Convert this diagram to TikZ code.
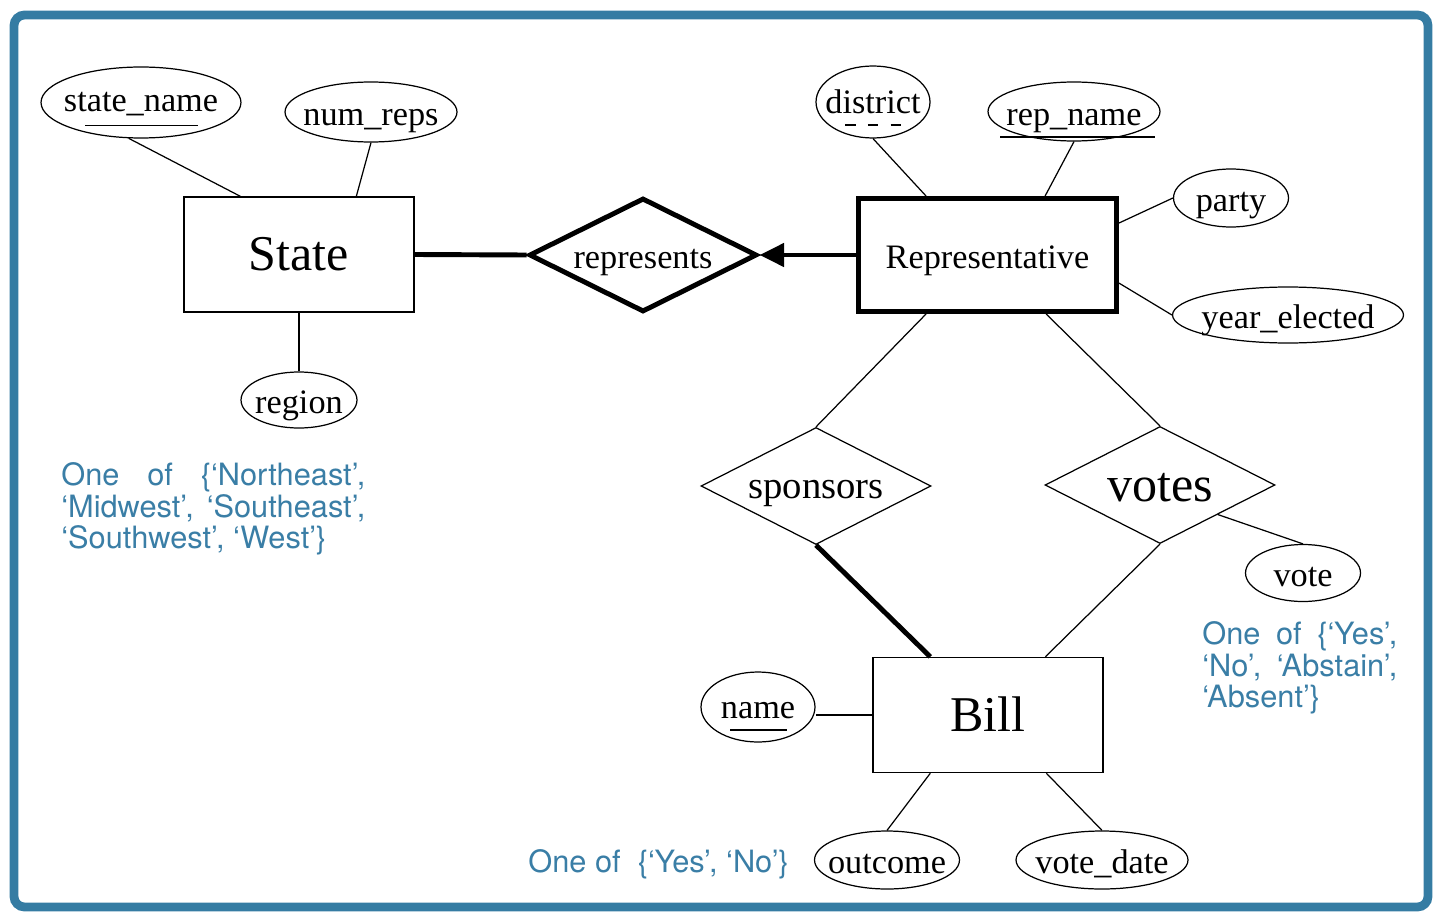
\documentclass[tikz,border=0pt]{standalone}
\usepackage{fontspec}
\setmainfont{Liberation Serif}
\newfontfamily\notefont{TeX Gyre Heros}
\usepackage{xcolor}
\usepackage{tikz}
\usetikzlibrary{arrows.meta,calc}
\usetikzlibrary{shapes.geometric}

\definecolor{notecol}{RGB}{58,126,166}
\definecolor{framecol}{RGB}{53,124,163}

\begin{document}
\begin{tikzpicture}[x = 0.02cm, y = -0.02cm,
 small/.style = {font = \fontsize{19.5}{22}\selectfont, text height = 18.2pt, text depth = 2.6pt},
 big/.style = {font = \fontsize{28.5}{32}\selectfont, text height = 21pt, text depth = 2.7pt},
 attr/.style = {draw, ellipse, inner sep = 0pt, line width = 0.7pt, small,
                execute at begin node = \hbox to 0pt\bgroup\hss,
                execute at end node = \hss\egroup},
 keyattr/.style = {attr, text height = 15.5pt},
 ent/.style = {draw, rectangle, inner sep = 0pt, line width = 0.8pt,
               minimum width = 4.6cm, minimum height = 2.3cm},
 rel/.style = {draw, diamond, aspect = 2, inner sep = 0pt, line width = 0.7pt,
               minimum width = 4.6cm, minimum height = 2.34cm},
 link/.style = {line width = 0.7pt},
 heavy/.style = {line width = 2.8pt},
 note/.style = {text = notecol, inner sep = 0pt, align = justify,
                font = \notefont\fontsize{17.5}{18.1}\selectfont}]

\useasboundingbox (0,0) rectangle (1442,912);
\draw[framecol, line width = 5pt, rounded corners = 6pt] (14,15) rectangle (1428,907);

\node[ent, big] (St) at (299,254.5) {State};
\node[ent, heavy, small, minimum width = 5.16cm, minimum height = 2.26cm] (Rep) at (987.5,255) {Representative};
\node[ent, big] (Bill) at (988,715) {Bill};

\node[rel, heavy, small, minimum width = 4.56cm, minimum height = 2.28cm] (Repr) at (643,255) {represents};
\node[rel, font = \fontsize{22}{26}\selectfont, text height = 17.5pt, text depth = 3pt] (Spon) at (816,486) {sponsors};
\node[rel, big] (Vot) at (1160,485) {votes};

\node[keyattr, text height = 13pt, minimum width = 4cm, minimum height = 1.42cm] (sname) at (141,102.5) {state\_name};
\node[attr, minimum width = 3.44cm, minimum height = 1.2cm] (nreps) at (371,112) {num\_reps};
\node[attr, minimum width = 2.32cm, minimum height = 1.12cm] (reg) at (299,400) {region};
\node[keyattr, minimum width = 2.28cm, minimum height = 1.44cm] (dist) at (873,102) {district};
\node[attr, minimum width = 3.44cm, minimum height = 1.18cm] (rname) at (1074,111.5) {rep\_name};
\node[attr, minimum width = 2.3cm, minimum height = 1.16cm] (party) at (1231,198) {party};
\node[attr, minimum width = 4.62cm, minimum height = 1.12cm] (year) at (1288,315) {year\_elected};
\node[attr, minimum width = 2.3cm, minimum height = 1.14cm] (vote) at (1303,573) {vote};
\node[keyattr, minimum width = 2.28cm, minimum height = 1.4cm] (bname) at (758,707) {name};
\node[attr, minimum width = 2.9cm, minimum height = 1.16cm] (outc) at (887,860) {outcome};
\node[attr, minimum width = 3.44cm, minimum height = 1.16cm] (vdate) at (1102,860) {vote\_date};

\draw[link] ($(sname.center)+(-56,23)$) -- ($(sname.center)+(57,23)$);
\draw[link, dash pattern = on 6pt off 7pt] ($(dist.center)+(-28,23)$) -- ($(dist.center)+(30,23)$);
\draw[link] ($(rname.center)+(-74,25.5)$) -- ($(rname.center)+(81,25.5)$);
\draw[link] ($(bname.center)+(-28,23)$) -- ($(bname.center)+(29,23)$);

\draw[link] (sname.251) -- ($(St.north west)+(57,0)$);
\draw[link] (nreps.south) -- ($(St.north west)+(173,0)$);
\draw[link] (St.south) -- (reg.north);
\draw[heavy] (St.east) -- (Repr.west);
\draw[heavy, -{Triangle[length = 14pt, width = 13pt]}] (Rep.west) -- (Repr.east);

\draw[link] (dist.south) -- ($(Rep.north west)+(70,0)$);
\draw[link] (rname.south) -- ($(Rep.north west)+(189,0)$);
\draw[link] (party.west) -- ($(Rep.north east)+(0,27)$);
\draw[link] (year.west) -- ($(Rep.north east)+(0,87)$);
\draw[link] ($(Rep.south west)+(70,0)$) -- (Spon.north);
\draw[link] ($(Rep.south west)+(190,0)$) -- (Vot.north);

\draw[heavy] (Spon.south) -- ($(Bill.north west)+(58,0)$);
\draw[link] (Vot.south) -- ($(Bill.north west)+(173,0)$);
\draw[link] (Vot.south east) -- (vote.north);
\draw[link] (Bill.west) -- (Bill.west -| bname.east);
\draw[link] ($(Bill.south west)+(58,0)$) -- (outc.north);
\draw[link] ($(Bill.south west)+(174,0)$) -- (vdate.north);

\node[note, text width = 6.08cm, anchor = north west] (regnote) at (61,462)
 {\tolerance=10000 One of \{‘Northeast’,\linebreak ‘Midwest’, ‘Southeast’,\linebreak ‘Southwest’, ‘West’\}};
\node[note, text width = 3.9cm, anchor = north west] (votenote) at (1202,621)
 {\tolerance=10000 One of \{‘Yes’,\linebreak ‘No’, ‘Abstain’,\linebreak ‘Absent’\}};
\node[note, anchor = west] (outnote) at (528,864) {One of~~\{‘Yes’, ‘No’\}};

\end{tikzpicture}
\end{document}
